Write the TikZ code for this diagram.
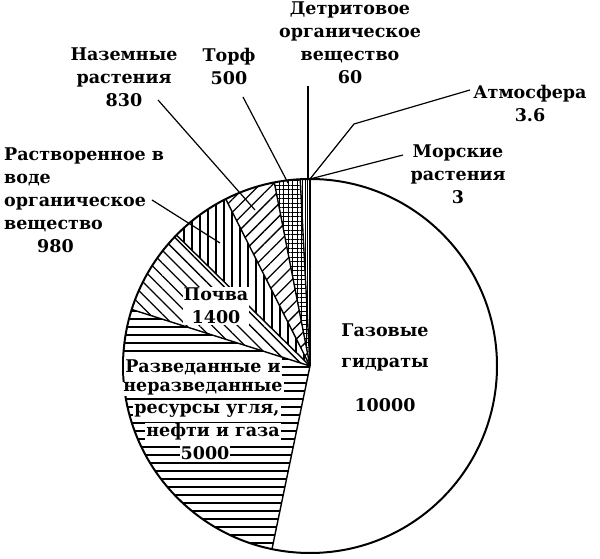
\documentclass[tikz,border=0pt]{standalone}
\usepackage{fontspec}
\setmainfont{DejaVu Serif}
\usetikzlibrary{patterns.meta}
\begin{document}
\begin{tikzpicture}[x=1pt,y=1pt,
  lbl/.style={font=\bfseries\fontsize{17.5}{23}\selectfont,align=center,inner sep=0pt},
  wlbl/.style={lbl,fill=white,inner sep=1pt},
  lead/.style={line width=1.2pt}]
\useasboundingbox (0,0) rectangle (600,559);
\coordinate (c) at (310,193);
\def\R{187}
% slices
\path[pattern={Lines[angle=0,distance=8pt,line width=1.3pt]}] (c) -- ++(162.41:\R) arc[start angle=162.41,end angle=258.27,radius=\R] -- cycle;
\path[pattern={Lines[angle=-45,distance=9pt,line width=1.3pt]}] (c) -- ++(135.57:\R) arc[start angle=135.57,end angle=162.41,radius=\R] -- cycle;
\path[pattern={Lines[angle=90,distance=8pt,line width=1.3pt]}] (c) -- ++(116.78:\R) arc[start angle=116.78,end angle=135.57,radius=\R] -- cycle;
\path[pattern={Lines[angle=45,distance=9pt,line width=1.3pt]}] (c) -- ++(101:\R) arc[start angle=101,end angle=116.78,radius=\R] -- cycle;
\path[pattern={Hatch[angle=0,distance=4.5pt,line width=1pt]}] (c) -- ++(93:\R) arc[start angle=93,end angle=101,radius=\R] -- cycle;
\path[pattern={Lines[angle=90,distance=2.5pt,line width=1pt]}] (c) -- ++(90.13:\R) arc[start angle=90.13,end angle=93,radius=\R] -- cycle;
% boundaries
\foreach \a in {90,93,101,116.78,135.57,162.41,258.27}
  \draw[line width=1.4pt] (c) -- ++(\a:\R);
\draw[line width=2pt] (c) circle[radius=\R];
% labels
\node[lbl,anchor=north] (det) at (350,557) {Детритовое\\органическое\\вещество\\60};
\node[lbl,anchor=north] (torf) at (229,511) {Торф\\500};
\node[lbl,anchor=north] (land) at (124,511) {Наземные\\растения\\830};
\node[lbl,anchor=north] (atm) at (530,474) {Атмосфера\\3.6};
\node[lbl,anchor=north] (sea) at (458,414) {Морские\\растения\\3};
\node[lbl,anchor=north west,align=left] (dis) at (4,411) {Растворенное в\\воде\\органическое\\вещество\\\hspace*{33pt}980};
\node[lbl,anchor=north,fill=white,inner sep=1pt] (soil) at (216,272) {Почва\\1400};
\node[wlbl] (f1) at (203,192) {Разведанные и};
\node[wlbl] (f2) at (203,170) {неразведанные};
\node[wlbl] (f3) at (207,148) {ресурсы угля,};
\node[wlbl] (f4) at (213,127) {нефти и газа};
\node[wlbl] (f5) at (205,106) {5000};
\node[lbl] (g1) at (385,229) {Газовые};
\node[lbl] (g2) at (385,194) {гидраты};
\node[lbl] (g3) at (385,154) {10000};
% leaders
\coordinate (ptop) at (310,380);
\coordinate (ab) at (354,435);
\draw[lead] (308,473) -- (308,380);
\draw[lead] (243,462) -- (288,376);
\draw[lead] (158,459) -- (255,349);
\draw[lead] (152,359) -- (220,316);
\draw[lead] (470,469) -- (ab) -- (ptop);
\draw[lead] (403,404) -- (ptop);
\end{tikzpicture}
\end{document}
